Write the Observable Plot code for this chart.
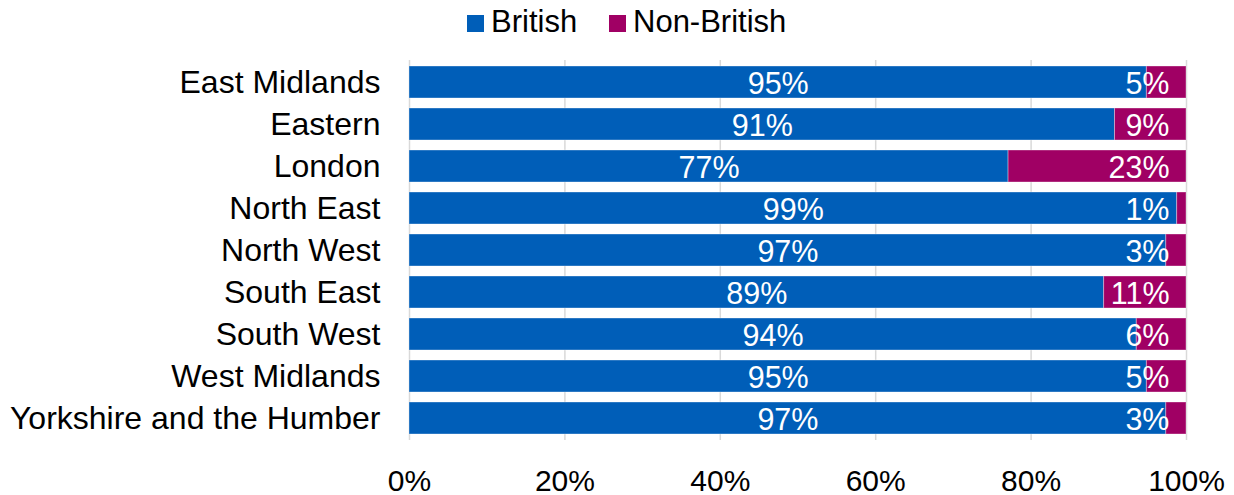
<!DOCTYPE html>
<html>
<head>
<meta charset="utf-8">
<script src="https://cdn.jsdelivr.net/npm/d3@7"></script>
<script src="https://cdn.jsdelivr.net/npm/@observablehq/plot@0.6"></script>
<style>
  html, body { margin: 0; padding: 0; background: white; }
  body { width: 1234px; height: 495px; overflow: hidden; font-family: "Liberation Sans", Arial, sans-serif; }
  #legend { position: relative; height: 50px; width: 1234px; }
  .sw { position: absolute; top: 15px; width: 17px; height: 17px; }
  .lt { position: absolute; top: 4px; font-size: 31px; line-height: 36px; color: #000; white-space: nowrap; }
</style>
</head>
<body>
<div id="legend"></div>
<div id="chart"></div>
<script>
const regions = ["East Midlands", "Eastern", "London", "North East", "North West", "South East", "South West", "West Midlands", "Yorkshire and the Humber"];
const series = ["British", "Non-British"];
const colors = ["#005EB8", "#A00064"];
const britishValues = [94.9, 90.8, 77.1, 98.8, 97.4, 89.4, 93.6, 94.9, 97.4];
const nonBritishValues = [5.1, 9.2, 22.9, 1.2, 2.6, 10.6, 6.4, 5.1, 2.6];
const britishLabels = ["95%", "91%", "77%", "99%", "97%", "89%", "94%", "95%", "97%"];
const nonBritishLabels = ["5%", "9%", "23%", "1%", "3%", "11%", "6%", "5%", "3%"];
const xTicks = [0, 20, 40, 60, 80, 100];
const xTickLabels = ["0%", "20%", "40%", "60%", "80%", "100%"];

const rows = [];
regions.forEach((r, i) => {
  rows.push({region: r, series: series[0], value: britishValues[i], label: britishLabels[i]});
  rows.push({region: r, series: series[1], value: nonBritishValues[i], label: nonBritishLabels[i]});
});

// legend
const legend = document.getElementById("legend");
const legendPos = [{sw: 467, tx: 491}, {sw: 609, tx: 633}];
series.forEach((s, i) => {
  const sw = document.createElement("div");
  sw.className = "sw";
  sw.style.left = legendPos[i].sw + "px";
  sw.style.background = colors[i];
  legend.appendChild(sw);
  const t = document.createElement("div");
  t.className = "lt";
  t.style.left = legendPos[i].tx + "px";
  t.textContent = s;
  legend.appendChild(t);
});

const chart = Plot.plot({
  width: 1234,
  height: 445,
  marginLeft: 409,
  marginRight: 48,
  marginTop: 10,
  marginBottom: 55,
  style: {fontFamily: "'Liberation Sans', Arial, sans-serif", fontSize: "30px", color: "#000", background: "white", overflow: "visible"},
  x: {domain: [0, 100]},
  y: {domain: regions, paddingInner: 0.24, paddingOuter: 0.12},
  color: {domain: series, range: colors},
  marks: [
    Plot.gridX(xTicks, {stroke: "#d9d9d9", strokeOpacity: 1, strokeWidth: 1.5}),
    Plot.barX(rows, Plot.stackX({x: "value", y: "region", z: "series", fill: "series", stroke: "white", strokeOpacity: 0.35, strokeWidth: 1})),
    Plot.text(rows, Plot.stackX({x: "value", y: "region", z: "series",
      text: d => d.series === "British" ? d.label : null,
      fill: "white", fontSize: 30.5, dy: 2})),
    Plot.text(rows, Plot.stackX2({x: "value", y: "region", z: "series",
      text: d => d.series === "Non-British" ? d.label : null,
      fill: "white", fontSize: 30.5, textAnchor: "end", dx: -17, dy: 2})),
    Plot.axisX(xTicks, {tickSize: 0, tickPadding: 29, tickFormat: (d, i) => xTickLabels[i], fontSize: 30, label: null}),
    Plot.axisY({tickSize: 0, tickPadding: 29, fontSize: 32, label: null})
  ]
});
document.getElementById("chart").appendChild(chart);
</script>
</body>
</html>
